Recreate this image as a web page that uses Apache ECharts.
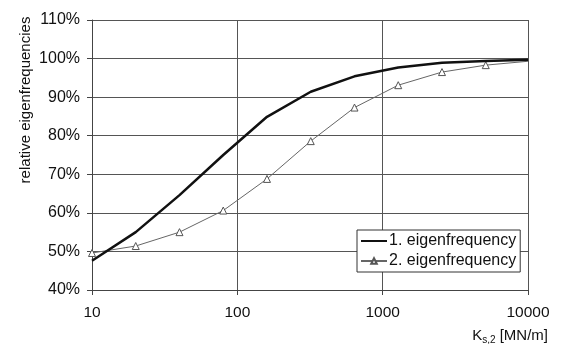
<!DOCTYPE html>
<html>
<head>
<meta charset="utf-8">
<script src="https://cdn.jsdelivr.net/npm/echarts@6/dist/echarts.min.js"></script>
<style>
html,body{margin:0;padding:0;background:#fff;}
#c{width:562px;height:344px;}
</style>
</head>
<body>
<div id="c"></div>
<script>
var stiffness = [10, 20, 40, 80, 160, 320, 640, 1280, 2560, 5120, 10000];
var eigen1 = [47.6, 55.0, 64.6, 75.0, 84.9, 91.4, 95.4, 97.7, 98.9, 99.4, 99.7];
var eigen2 = [49.6, 51.4, 55.0, 60.6, 68.8, 78.6, 87.3, 93.1, 96.5, 98.3, 99.3];
var seriesNames = ['1. eigenfrequency', '2. eigenfrequency'];
var yTicks = [40, 50, 60, 70, 80, 90, 100, 110];
var xTicks = [10, 100, 1000, 10000];

var FONT = 'Liberation Sans, Arial, sans-serif';
var chart = echarts.init(document.getElementById('c'));

function pairs(xs, ys) { return xs.map(function (x, i) { return [x, ys[i]]; }); }
var s2 = pairs(stiffness, eigen2).map(function (p, i) {
  return i === stiffness.length - 1 ? { value: p, symbol: 'none' } : p;
});

chart.setOption({
  animation: false,
  backgroundColor: '#fff',
  grid: { left: 92, right: 34, top: 20, bottom: 54 },
  xAxis: {
    type: 'log', logBase: 10,
    min: xTicks[0], max: xTicks[xTicks.length - 1],
    axisLine: { show: true, lineStyle: { color: '#444', width: 1 } },
    axisTick: { show: true, inside: false, length: 5, lineStyle: { color: '#444' } },
    minorTick: { show: false },
    splitLine: { show: true, lineStyle: { color: '#555', width: 1 } },
    axisLabel: { color: '#111', fontFamily: FONT, fontSize: 15.5, margin: 15,
      formatter: function (v) { return String(Math.round(v)); } }
  },
  yAxis: {
    type: 'value',
    min: yTicks[0], max: yTicks[yTicks.length - 1], interval: 10,
    axisLine: { show: true, lineStyle: { color: '#444', width: 1 } },
    axisTick: { show: true, length: 5, lineStyle: { color: '#444' } },
    splitLine: { show: true, lineStyle: { color: '#555', width: 1 } },
    axisLabel: { color: '#111', fontFamily: FONT, fontSize: 16, margin: 12, formatter: '{value}%' }
  },
  legend: {
    show: true, orient: 'vertical',
    left: 357, top: 230,
    padding: [3, 4, 3, 3],
    itemGap: 4, itemWidth: 26, itemHeight: 7,
    backgroundColor: '#fff', borderColor: '#333', borderWidth: 1,
    textStyle: { color: '#111', fontFamily: FONT, fontSize: 16, padding: [0, 0, 0, -3] },
    data: [
      { name: seriesNames[0], itemStyle: { opacity: 0 } },
      { name: seriesNames[1] }
    ]
  },
  graphic: [
    {
      type: 'text', x: 26, y: 100, rotation: Math.PI / 2,
      style: {
        text: 'relative eigenfrequencies', fontFamily: FONT, fontSize: 15, fill: '#111',
        align: 'center', verticalAlign: 'middle'
      }
    },
    {
      type: 'text', right: 14, top: 328,
      style: {
        text: '{k|K}{s|s,2}{k| [MN/m]}',
        rich: {
          k: { fontFamily: FONT, fontSize: 15, fill: '#111' },
          s: { fontFamily: FONT, fontSize: 10, fill: '#111', padding: [9, 0, 0, 0] }
        }
      }
    }
  ],
  series: [
    {
      name: seriesNames[0], type: 'line', data: pairs(stiffness, eigen1),
      showSymbol: false, symbol: 'none',
      lineStyle: { color: '#111', width: 2.5 }, itemStyle: { color: '#111' }, z: 3
    },
    {
      name: seriesNames[1], type: 'line', data: s2,
      symbol: 'triangle', symbolSize: 7,
      lineStyle: { color: '#666', width: 1 },
      itemStyle: { color: '#fff', borderColor: '#555', borderWidth: 1 }, z: 2
    }
  ]
});
</script>
</body>
</html>
